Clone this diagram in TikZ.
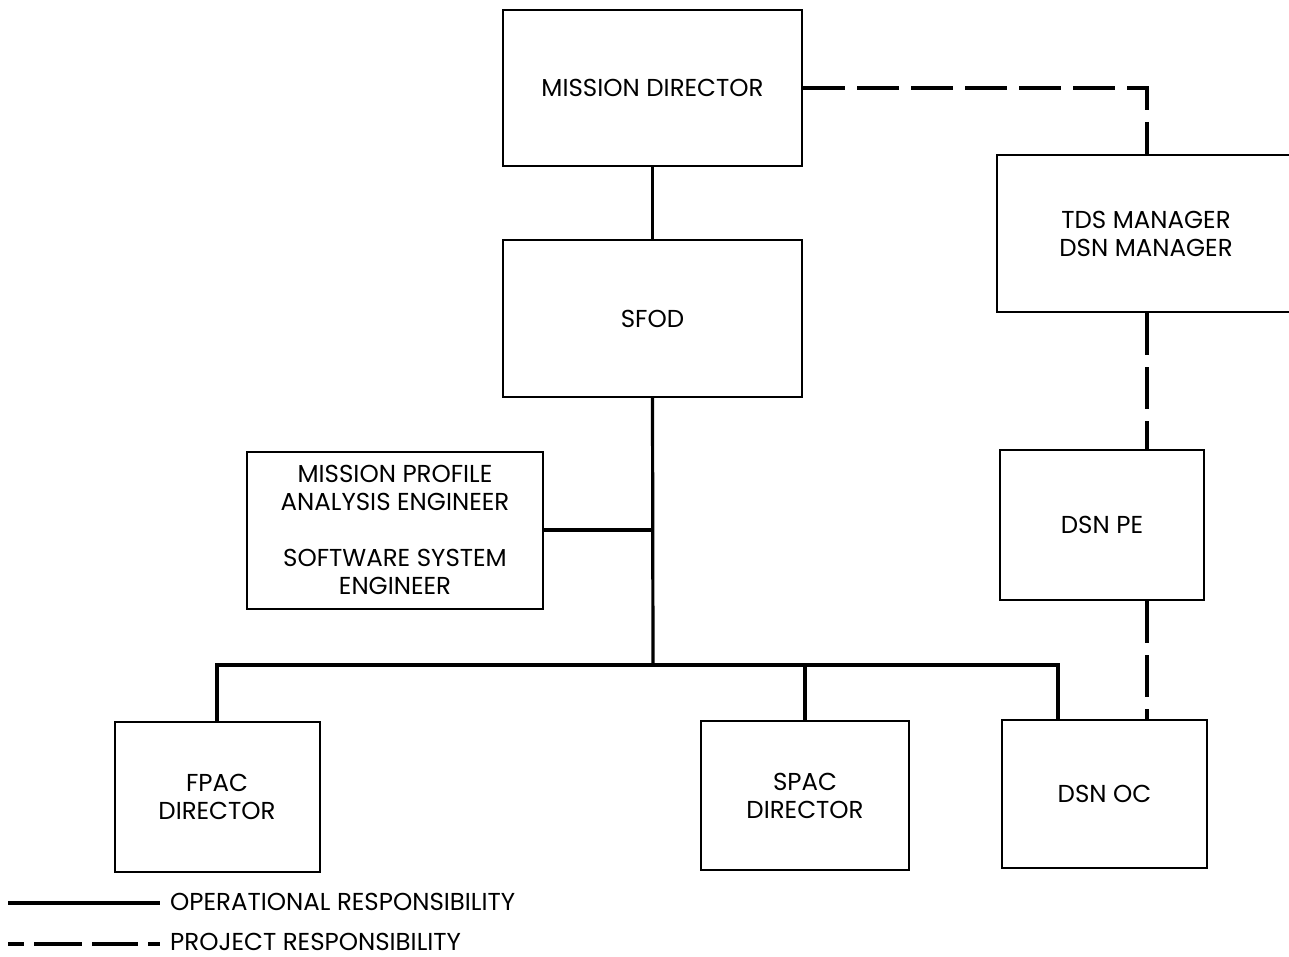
\documentclass[tikz,border=0pt]{standalone}
\usepackage{fontspec}
\setmainfont{Poppins}
\newcommand\orgfont{\fontsize{24.5}{28}\selectfont}
\begin{document}
\begin{tikzpicture}[x=1pt,y=-1pt,
  box/.style={draw, line width=2pt, inner sep=0pt, align=center, font=\orgfont},
  opline/.style={line width=3.2pt},
  pjline/.style={line width=3.6pt, dash pattern=on 42pt off 12pt},
  legend/.style={anchor=base west, inner sep=0pt, font=\orgfont},
]
\useasboundingbox (0,0) rectangle (1289,957);

% boxes
\node[box, minimum width=299pt, minimum height=156pt] (md)    at (652.5,88)   {MISSION DIRECTOR};
\node[box, minimum width=299pt, minimum height=157pt] (sfod)  at (652.5,318.5){SFOD};
\node[box, minimum width=298pt, minimum height=157pt] (tds)   at (1146,233.5) {TDS MANAGER\\DSN MANAGER};
\node[box, minimum width=296pt, minimum height=157pt] (mpae)  at (395,530)    {MISSION PROFILE\\ANALYSIS ENGINEER\\[28pt]SOFTWARE SYSTEM\\ENGINEER};
\node[box, minimum width=204pt, minimum height=150pt] (dsnpe) at (1102,525)   {DSN PE};
\node[box, minimum width=205pt, minimum height=150pt] (fpac)  at (217,797)    {FPAC\\DIRECTOR};
\node[box, minimum width=208pt, minimum height=149pt] (spac)  at (805,795.5)  {SPAC\\DIRECTOR};
\node[box, minimum width=205pt, minimum height=148pt] (dsnoc) at (1104.5,794) {DSN OC};

% junction points
\coordinate (bus)  at (653,665);
\coordinate (ocx)  at (1058,0);
\coordinate (pjx)  at (1147,0);

% operational responsibility
\draw[opline] (md.south) -- (sfod.north);
\draw[opline] (sfod.south) -- (bus);
\draw[opline] (mpae.east) -- (mpae.east -| bus);
\draw[opline] (fpac.north) |- (bus) -| (ocx |- dsnoc.north);
\draw[opline] (spac.north) -- (spac.north |- bus);

% project responsibility
\draw[pjline] (md.east) -| (pjx |- tds.north);
\draw[pjline] (pjx |- tds.south) -- (pjx |- dsnpe.north);
\draw[pjline] (pjx |- dsnpe.south) -- (pjx |- dsnoc.north);

% legend
\node[legend] (optext) at (170,910) {OPERATIONAL RESPONSIBILITY};
\node[legend] (pjtext) at (170,950) {PROJECT RESPONSIBILITY};
\coordinate (l1) at (8,903);
\coordinate (l2) at (8,944);
\draw[opline] (l1) -- ([xshift=-10pt]l1 -| optext.west);
\draw[pjline, dash pattern=on 16pt off 10pt on 48pt off 10pt on 46pt off 10pt on 12pt] (l2) -- ([xshift=-10pt]l2 -| pjtext.west);
\end{tikzpicture}
\end{document}
